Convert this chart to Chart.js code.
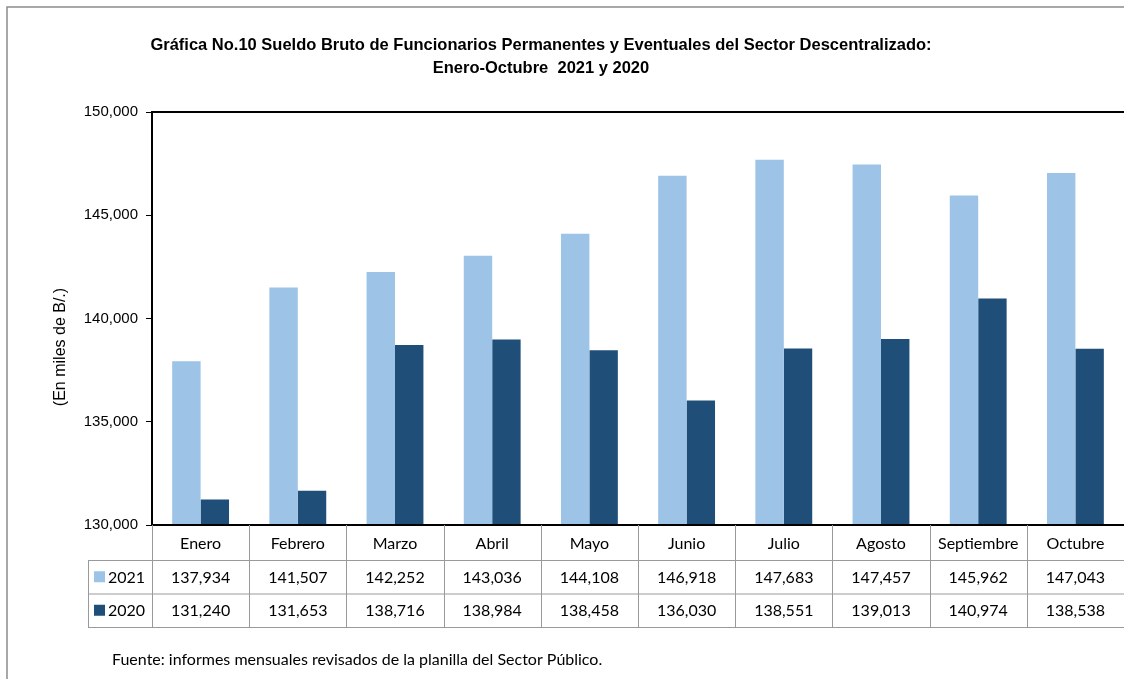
<!DOCTYPE html>
<html>
<head>
<meta charset="utf-8">
<script src="https://cdn.jsdelivr.net/npm/chart.js@4"></script>
<style>
  html, body { margin: 0; padding: 0; background: #fff; overflow: hidden; }
  #wrap { width: 1124px; height: 679px; position: relative; }
</style>
</head>
<body>
<div id="wrap"><canvas id="chartSueldo"></canvas></div>
<script>
'use strict';

const months = ['Enero', 'Febrero', 'Marzo', 'Abril', 'Mayo', 'Junio', 'Julio', 'Agosto', 'Septiembre', 'Octubre'];
const sueldo2021 = [137934, 141507, 142252, 143036, 144108, 146918, 147683, 147457, 145962, 147043];
const sueldo2020 = [131240, 131653, 138716, 138984, 138458, 136030, 138551, 139013, 140974, 138538];
const seriesNames = ['2021', '2020'];
const yTicks = [130000, 135000, 140000, 145000, 150000];

const titleLines = [
    'Gráfica No.10 Sueldo Bruto de Funcionarios Permanentes y Eventuales del Sector Descentralizado:',
    'Enero-Octubre  2021 y 2020'
];
const yTitle = '(En miles de B/.)';
const footnote = 'Fuente: informes mensuales revisados de la planilla del Sector Público.';

const LIGHT = '#9dc3e6';
const DARK = '#1f4e79';
const TABLE_FONT = "16px Lato, 'Open Sans', sans-serif";
const fmt = v => v.toLocaleString('en-US');

// Frame, titles, data table and footnote
const decorPlugin = {
    id: 'decor',
    afterDraw(chart) {
        const { ctx, chartArea: a, scales: { x } } = chart;
        ctx.save();

        // outer frame
        ctx.strokeStyle = '#8c8c8c';
        ctx.lineWidth = 1.5;
        ctx.beginPath();
        ctx.moveTo(7, 679); ctx.lineTo(7, 7); ctx.lineTo(1124, 7);
        ctx.stroke();

        // title
        ctx.fillStyle = '#000';
        ctx.textAlign = 'center';
        ctx.textBaseline = 'middle';
        ctx.font = "bold 16.5px 'Liberation Sans', Arial, sans-serif";
        ctx.fillText(titleLines[0], 541, 45);
        ctx.fillText(titleLines[1], 541, 68);

        // y axis title
        ctx.save();
        ctx.translate(61, 347);
        ctx.rotate(-Math.PI / 2);
        ctx.font = "16px 'Liberation Sans', Arial, sans-serif";
        ctx.fillText(yTitle, 0, 0);
        ctx.restore();

        // plot frame (top + left + bottom)
        ctx.strokeStyle = '#000';
        ctx.lineWidth = 2;
        ctx.beginPath();
        ctx.moveTo(a.right, a.top); ctx.lineTo(a.left, a.top);
        ctx.lineTo(a.left, a.bottom); ctx.lineTo(a.right, a.bottom);
        ctx.stroke();

        // data table
        const rowH = 33.5;
        const r0 = a.bottom, r1 = r0 + 35, r2 = r1 + rowH, r3 = r2 + rowH;
        const legendLeft = 88;
        const colW = (a.right - a.left) / months.length;
        ctx.strokeStyle = '#9a9a9a';
        ctx.lineWidth = 1;
        ctx.beginPath();
        [r1, r2, r3].forEach(y => { ctx.moveTo(legendLeft, y + 0.5); ctx.lineTo(a.right, y + 0.5); });
        ctx.moveTo(legendLeft + 0.5, r1); ctx.lineTo(legendLeft + 0.5, r3);
        for (let i = 0; i <= months.length; i++) {
            const xx = Math.round(a.left + i * colW) + 0.5;
            ctx.moveTo(xx, r0); ctx.lineTo(xx, r3);
        }
        ctx.stroke();

        ctx.font = TABLE_FONT;
        ctx.fillStyle = '#000';
        ctx.textAlign = 'center';
        months.forEach((m, i) => {
            const cx = x.getPixelForTick(i);
            ctx.fillText(m, cx, (r0 + r1) / 2 + 1);
            ctx.fillText(fmt(sueldo2021[i]), cx, (r1 + r2) / 2 + 1);
            ctx.fillText(fmt(sueldo2020[i]), cx, (r2 + r3) / 2 + 1);
        });

        // legend keys in the table
        [[r1, r2, LIGHT], [r2, r3, DARK]].forEach(([t, b, c], k) => {
            const cy = (t + b) / 2;
            ctx.fillStyle = c;
            ctx.fillRect(94, cy - 5.5, 11, 11);
            ctx.fillStyle = '#000';
            ctx.textAlign = 'left';
            ctx.fillText(seriesNames[k], 108, cy + 1);
        });

        // footnote
        ctx.textAlign = 'left';
        ctx.fillText(footnote, 112, 660);
        ctx.restore();
    }
};

new Chart(document.getElementById('chartSueldo'), {
    type: 'bar',
    data: {
        labels: months,
        datasets: [
            { label: seriesNames[0], data: sueldo2021, backgroundColor: LIGHT },
            { label: seriesNames[1], data: sueldo2020, backgroundColor: DARK },
        ],
    },
    options: {
        responsive: true, maintainAspectRatio: false, animation: false,
        layout: { padding: { left: 0, right: 0, top: 112, bottom: 154 } },
        datasets: { bar: { categoryPercentage: 0.585, barPercentage: 1.0, borderWidth: 0 } },
        plugins: { legend: { display: false }, title: { display: false }, tooltip: { enabled: false } },
        scales: {
            x: { display: false },
            y: {
                min: 130000, max: 150000,
                afterFit: s => { s.width = 152; },
                afterBuildTicks: s => { s.ticks = yTicks.map(v => ({ value: v })); },
                border: { display: true, color: '#000', width: 2 },
                grid: { drawOnChartArea: false, drawTicks: true, tickLength: 6, color: '#000' },
                ticks: {
                    color: '#000', padding: 8,
                    font: { family: "'Liberation Sans', Arial, sans-serif", size: 15 },
                    callback: v => fmt(v)
                }
            }
        }
    },
    plugins: [decorPlugin]
});
</script>
</body>
</html>
